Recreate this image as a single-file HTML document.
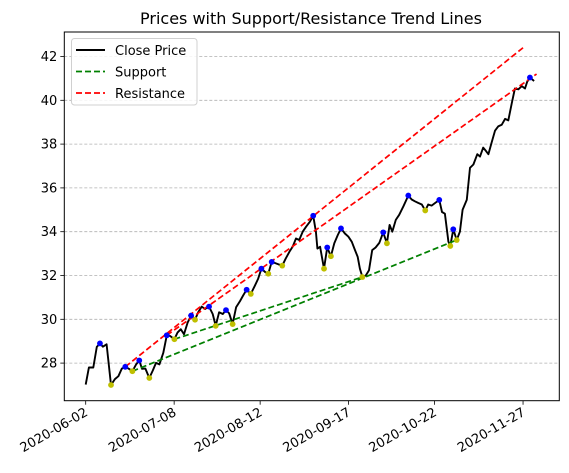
<!DOCTYPE html>
<html><head><meta charset="utf-8"><style>
body{margin:0;background:#fff;}
svg{display:block;font-family:"DejaVu Sans","Liberation Sans",sans-serif;}
</style></head><body>
<svg id="chart" width="569" height="473"></svg>
<script>
const values=[27.02,27.8,27.8,28.74,28.9,28.75,28.86,27.0,27.27,27.4,27.75,27.83,27.74,27.63,27.94,28.12,27.74,27.75,27.32,27.66,28.01,27.94,28.47,29.27,29.24,29.09,29.4,29.55,29.32,29.86,30.17,29.98,30.32,30.58,30.47,30.58,30.24,29.7,30.32,30.24,30.42,30.27,29.78,30.55,30.83,31.09,
31.35,31.16,31.55,31.86,32.31,32.16,32.08,32.62,32.57,32.51,32.45,32.77,33.08,33.31,33.69,33.62,34.0,34.23,34.46,34.73,34.0,33.23,33.31,32.31,33.28,32.88,33.47,33.85,34.15,33.92,33.77,33.54,33.16,32.85,32.31,31.93,32.0,32.24,33.16,33.28,33.49,33.97,33.47,34.31,34.0,34.54,34.77,35.16,35.65,35.47,35.39,35.31,35.24,34.97,35.24,35.19,35.31,35.45,
34.9,34.82,33.55,33.35,34.11,33.62,34.0,35.0,35.46,36.92,37.07,37.54,37.43,37.84,37.69,37.54,38.07,38.61,38.81,38.88,39.15,39.08,39.85,40.54,40.5,40.65,40.54,40.85,41.04,40.88];
// day offsets from 2020-06-02 for each close value
const dayOffsets=[0,1.3,3.1,4.5,5.8,7.0,8.5,10.3,11.9,13.3,14.7,16.1,17.6,19.0,20.5,21.8,22.9,24.3,25.9,27.3,28.6,30.0,31.6,33.0,34.3,36.1,37.4,38.7,40.0,41.5,42.9,44.5,45.8,47.2,48.6,50.2,51.7,52.9,54.3,55.8,57.1,58.4,59.8,61.2,62.8,64.1,
65.5,67.2,68.9,70.2,71.5,73.0,74.3,75.7,77.0,78.4,80.0,81.4,82.9,84.2,85.6,86.9,88.3,89.7,91.3,92.6,93.7,94.3,95.4,97.0,98.3,99.8,101.2,102.6,103.9,105.5,106.9,108.3,109.6,110.7,111.6,112.6,114.0,115.3,116.6,118.0,119.5,121.1,122.6,123.7,124.8,126.2,127.6,129.3,131.3,132.7,134.0,135.4,136.8,138.2,139.4,140.8,142.2,143.9,
145.0,146.2,147.6,148.4,149.6,151.0,152.3,153.4,155.1,156.4,157.8,159.4,160.5,161.8,162.9,163.9,165.2,166.6,167.9,169.3,170.7,172.0,173.4,174.7,176.1,177.5,178.8,179.7,180.8,182.5];
const peakIdx=[4,11,15,23,30,35,40,46,50,53,65,70,74,87,94,103,108,132];
const troughIdx=[7,13,18,25,31,37,42,47,52,56,69,71,81,88,99,107,109];
// [startDay, startValue, endDay, endValue]
const supportLines=[[19.0,27.63,151.0,33.62],[36.1,29.09,112.6,31.93]];
const resistanceLines=[[16.1,27.83,178.0,42.4],[33.0,29.27,183.5,41.2]];
const yTicks=[28,30,32,34,36,38,40,42];
const xTickLabels=["2020-06-02","2020-07-08","2020-08-12","2020-09-17","2020-10-22","2020-11-27"];
const startDate="2020-06-02";

const L=64.3,R=559.3,T=32,B=400.7;
const NS="http://www.w3.org/2000/svg";
const svg=document.getElementById('chart');
const dayOf=s=>(Date.parse(s)-Date.parse(startDate))/86400000;
const xDay=d=>85.7+2.457*d;
const yV=v=>231.7-(v-34)*21.9;
function mk(tag,attrs,parent){const e=document.createElementNS(NS,tag);for(const k in attrs)e.setAttribute(k,attrs[k]);(parent||svg).appendChild(e);return e;}

yTicks.forEach(v=>{
 const g=mk('line',{x1:L,x2:R,y1:yV(v),y2:yV(v),stroke:'#b0b0b0','stroke-width':0.8,'stroke-dasharray':'3,2'});
 
 
});
const pts=values.map((v,i)=>xDay(dayOffsets[i]).toFixed(1)+','+yV(v).toFixed(1)).join(' ');
const cl=mk('polyline',{points:pts,fill:'none',stroke:'#000','stroke-width':1.9,'stroke-linejoin':'round'});


function trend(arr,color,name){arr.forEach((l,k)=>{
 const e=mk('line',{x1:xDay(l[0]),y1:yV(l[1]),x2:xDay(l[2]),y2:yV(l[3]),stroke:color,'stroke-width':1.7,'stroke-dasharray':'6,3'});
 
 
});}
trend(supportLines,'#008000','support');
trend(resistanceLines,'#ff0000','resistance');
peakIdx.forEach(i=>{const c=mk('circle',{cx:xDay(dayOffsets[i]),cy:yV(values[i]),r:2.9,fill:'#0000ff'});
 
 });
troughIdx.forEach(i=>{const c=mk('circle',{cx:xDay(dayOffsets[i]),cy:yV(values[i]),r:2.9,fill:'#bfbf00'});
 
 });
const fr=mk('rect',{x:L,y:T,width:R-L,height:B-T,fill:'none',stroke:'#000','stroke-width':1});


yTicks.forEach(v=>{
 mk('line',{x1:L-4,x2:L,y1:yV(v),y2:yV(v),stroke:'#000','stroke-width':0.8});
 const t=mk('text',{x:L-7,y:yV(v)+4.5,'text-anchor':'end','font-size':13,fill:'#000'});
 t.textContent=v;
 
 
});
xTickLabels.forEach(s=>{
 const x=xDay(dayOf(s));
 mk('line',{x1:x,x2:x,y1:B,y2:B+4,stroke:'#000','stroke-width':0.8});
 const t=mk('text',{x:x+3,y:B+14,'text-anchor':'end','font-size':13,fill:'#000',transform:'rotate(-30 '+(x+3)+' '+(B+14)+')'});
 t.textContent=s;
 
 
});
</script>
<div style="position:absolute;left:0;top:0;width:569px;height:473px;pointer-events:none;">
<svg width="569" height="473" style="position:absolute;left:0;top:0;font-family:'DejaVu Sans','Liberation Sans',sans-serif;">
 <text x="311" y="24" text-anchor="middle" font-size="16">Prices with Support/Resistance Trend Lines</text>
 <g>
  <rect x="71.5" y="38.5" width="125.5" height="66.5" rx="3" fill="#fff" fill-opacity="0.85" stroke="#d0d0d0"/>
  <line x1="76" x2="105" y1="50" y2="50" stroke="#000" stroke-width="1.9"/>
  <text x="115" y="55" font-size="13">Close Price</text>
  <line x1="76" x2="105" y1="71.5" y2="71.5" stroke="#008000" stroke-width="1.7" stroke-dasharray="6,3"/>
  <text x="115" y="76.5" font-size="13">Support</text>
  <line x1="76" x2="105" y1="93" y2="93" stroke="#ff0000" stroke-width="1.7" stroke-dasharray="6,3"/>
  <text x="115" y="98" font-size="13">Resistance</text>
 </g>
</svg>
</div>
</body></html>
